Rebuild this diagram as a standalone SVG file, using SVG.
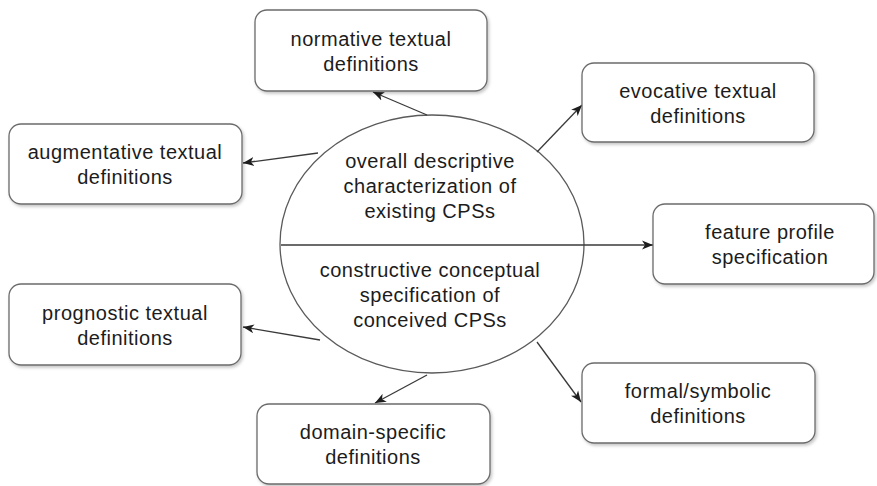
<svg xmlns="http://www.w3.org/2000/svg" width="877" height="486" viewBox="0 0 877 486">
  <defs>
    <style>
      .box { fill: #ffffff; stroke: #6b6b6b; stroke-width: 1.3; filter: url(#shadow); }
      .lbl { font-family: "Liberation Sans", Arial, sans-serif; font-size: 20px; letter-spacing: 0.5px; fill: #1c1c1c; text-anchor: middle; }
      .edge { stroke: #3a3a3a; stroke-width: 1.3; fill: none; marker-end: url(#head); }
      .core { fill: #ffffff; stroke: #5a5a5a; stroke-width: 1.3; }
    </style>
    <filter id="shadow" x="-10%" y="-10%" width="125%" height="130%">
      <feDropShadow dx="1.5" dy="2" stdDeviation="1.5" flood-color="#000000" flood-opacity="0.22"/>
    </filter>
    <marker id="head" markerUnits="userSpaceOnUse" markerWidth="12" markerHeight="10" refX="11" refY="5" orient="auto">
      <path d="M0,0.5 L11,5 L0,9.5 L3,5 z" fill="#1e1e1e"/>
    </marker>
  </defs>

  <!-- central ellipse split into two halves -->
  <g id="core">
    <ellipse class="core" cx="432" cy="244" rx="152" ry="129"/>
    <text class="lbl" x="430" y="168">overall descriptive</text>
    <text class="lbl" x="430" y="193">characterization of</text>
    <text class="lbl" x="430" y="218">existing CPSs</text>
    <text class="lbl" x="430" y="277">constructive conceptual</text>
    <text class="lbl" x="430" y="302">specification of</text>
    <text class="lbl" x="430" y="327">conceived CPSs</text>
  </g>

  <!-- connectors -->
  <g id="connectors">
    <line class="edge" x1="281" y1="245" x2="653" y2="245"/>
    <line class="edge" x1="427" y1="115" x2="373" y2="92"/>
    <line class="edge" x1="537" y1="152" x2="582" y2="105"/>
    <line class="edge" x1="318" y1="153" x2="243" y2="163"/>
    <line class="edge" x1="320" y1="340" x2="243" y2="327"/>
    <line class="edge" x1="427" y1="375" x2="375" y2="403"/>
    <line class="edge" x1="537" y1="342" x2="581" y2="402"/>
  </g>

  <g id="normative">
    <rect class="box" x="255" y="10" width="232" height="81" rx="12"/>
    <text class="lbl" x="371" y="46">normative textual</text>
    <text class="lbl" x="371" y="71">definitions</text>
  </g>

  <g id="evocative">
    <rect class="box" x="582" y="63" width="232" height="79" rx="12"/>
    <text class="lbl" x="698" y="98">evocative textual</text>
    <text class="lbl" x="698" y="123">definitions</text>
  </g>

  <g id="augmentative">
    <rect class="box" x="9" y="124" width="233" height="80" rx="12"/>
    <text class="lbl" x="125" y="159">augmentative textual</text>
    <text class="lbl" x="125" y="184">definitions</text>
  </g>

  <g id="feature">
    <rect class="box" x="653" y="204" width="221" height="80" rx="12"/>
    <text class="lbl" x="770" y="239">feature profile</text>
    <text class="lbl" x="770" y="264">specification</text>
  </g>

  <g id="prognostic">
    <rect class="box" x="9" y="284" width="232" height="81" rx="12"/>
    <text class="lbl" x="125" y="320">prognostic textual</text>
    <text class="lbl" x="125" y="345">definitions</text>
  </g>

  <g id="domain">
    <rect class="box" x="257" y="404" width="233" height="80" rx="12"/>
    <text class="lbl" x="373" y="439">domain-specific</text>
    <text class="lbl" x="373" y="464">definitions</text>
  </g>

  <g id="formal">
    <rect class="box" x="582" y="363" width="233" height="80" rx="12"/>
    <text class="lbl" x="698" y="398">formal/symbolic</text>
    <text class="lbl" x="698" y="423">definitions</text>
  </g>
</svg>
